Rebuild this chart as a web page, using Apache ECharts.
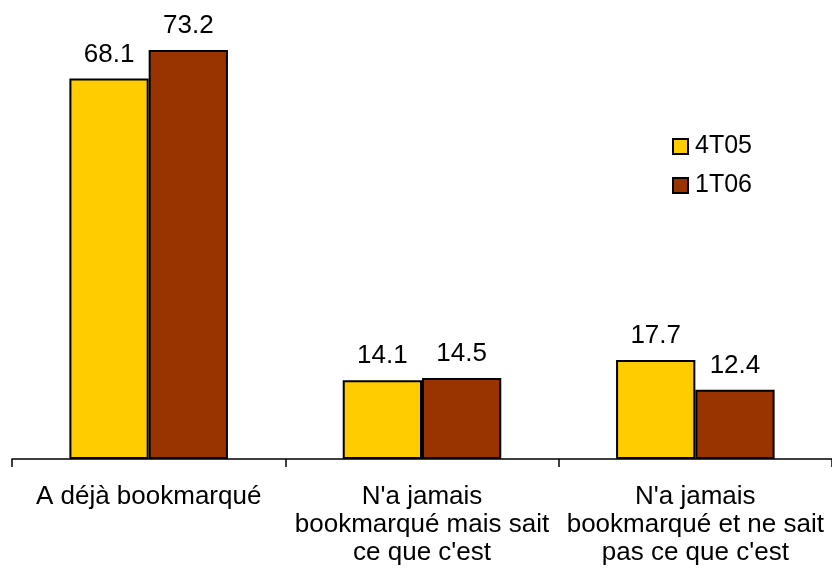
<!DOCTYPE html>
<html>
<head>
<meta charset="utf-8">
<script src="https://cdn.jsdelivr.net/npm/echarts@6/dist/echarts.min.js"></script>
<style>
  html, body { margin: 0; padding: 0; background: #fff; }
  #chart { width: 832px; height: 579px; }
</style>
</head>
<body>
<div id="chart"></div>
<script>
const categories = [
  'A déjà bookmarqué',
  "N'a jamais\nbookmarqué mais sait\nce que c'est",
  "N'a jamais\nbookmarqué et ne sait\npas ce que c'est"
];
const values4T05 = [68.1, 14.1, 17.7];
const values1T06 = [73.2, 14.5, 12.4];

const font = 'Arial, "Liberation Sans", sans-serif';
const chart = echarts.init(document.getElementById('chart'));

const label = {
  show: true,
  position: 'top',
  distance: 11,
  color: '#000',
  fontSize: 26,
  fontFamily: font,
  formatter: p => p.value.toFixed(1)
};

chart.setOption({
  animation: false,
  grid: { left: 12, width: 824, top: 12, bottom: 120 },
  legend: {
    orient: 'vertical',
    left: 672,
    top: 134,
    padding: 0,
    itemWidth: 15,
    itemHeight: 15,
    itemGap: 14,
    icon: 'rect',
    textStyle: { fontSize: 25, lineHeight: 24, fontFamily: font, color: '#000', padding: [0, 0, 0, 2] },
    data: ['4T05', '1T06']
  },
  xAxis: {
    type: 'category',
    data: categories,
    axisLine: { lineStyle: { color: '#000', width: 1.5 } },
    axisTick: { show: true, length: 8, lineStyle: { color: '#000', width: 1.5 } },
    axisLabel: {
      color: '#000',
      fontSize: 26,
      fontFamily: font,
      lineHeight: 28,
      margin: 24,
      interval: 0
    }
  },
  yAxis: {
    type: 'value',
    min: 0,
    max: 80,
    show: false,
    splitLine: { show: false }
  },
  series: [
    {
      name: '4T05',
      type: 'bar',
      data: values4T05,
      barGap: '0%',
      barCategoryGap: '42%',
      itemStyle: { color: '#FFCC00', borderColor: '#000', borderWidth: 2 },
      label
    },
    {
      name: '1T06',
      type: 'bar',
      data: values1T06,
      itemStyle: { color: '#993300', borderColor: '#000', borderWidth: 2 },
      label
    }
  ]
});
</script>
</body>
</html>
